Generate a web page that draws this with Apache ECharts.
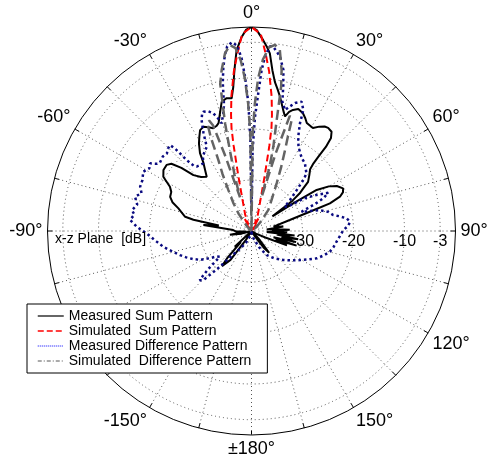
<!DOCTYPE html>
<html><head><meta charset="utf-8">
<script src="https://cdn.jsdelivr.net/npm/echarts@6/dist/echarts.min.js"></script>
<style>html,body{margin:0;padding:0;background:#fff}#c{width:494px;height:455px}</style>
</head><body><div id="c"></div>
<script>
const seriesNames = ['Measured Sum Pattern', 'Simulated  Sum Pattern', 'Measured Difference Pattern', 'Simulated  Difference Pattern'];
const planeLabel = 'x-z Plane  [dB]';
const radialTicks = [-30, -20, -10, -3];
const radialMin = -40, radialMax = 0;

// Measured sum pattern (angle deg, level dB)
const measSumAng = [-180,-165,-155,-148,-144,-140,-138,-136,-133,-128,-115,-105,-100,-97,-92,-90,-87,-83,-80.5,-79,-77.9,-75,-72.8,-70,-67.2,-64,-61.5,-58.4,-55.3,-52.1,-50,-48,-46.1,-43,-39.5,-37.3,-35,-33.5,-31,-29,-27,-24.8,-22.5,-20.4,-18.5,-17,-15,-13,-10.6,-8.5,-7.2,-6.3,-5.6,-4.7,-2.9,-1.5,0,1.5,3.5,5,5.9,7.4,8.9,10.5,12,14.7,16.3,17.5,18.9,21,23.6,25.5,27.1,30.8,33,35,36.6,38.9,40.5,41.5,42,42.5,43.5,45.9,49,50.5,52,53.5,55,56.5,57.8,60,62.2,65,67,68.8,70.6,71.5,74,78.8,82,84,86,88,90,92,94,96,98,100,102,104,106,108,110,112,115,120,130,137,141,144,148,155,180];
const measSumDb  = [-40,-40,-40,-38,-33,-31,-33,-37,-35.5,-40,-40,-38,-35.7,-39,-37,-37,-36.4,-30.5,-33.5,-28.4,-26.7,-25.8,-25,-23.5,-22.7,-22.5,-21.8,-19.7,-19,-18.9,-19.5,-21.5,-24.2,-25.5,-26.2,-25,-23.5,-21.7,-20,-18.9,-17.8,-17.5,-18,-18.5,-18.3,-17.9,-16.1,-14,-13.5,-13.7,-11.5,-9,-7,-4.4,-1.9,-0.5,0,-0.6,-2.5,-4,-5,-8.2,-10.4,-11.8,-13.1,-15.5,-16.6,-15.5,-14.9,-14.4,-14.8,-15.5,-16.2,-16.5,-15.6,-15,-14.8,-15,-16,-18,-20.5,-22,-23.3,-24.2,-25.3,-26.8,-28,-30,-35,-30,-24.9,-22.5,-21.1,-20.2,-20.5,-21.4,-23.7,-27.2,-32.2,-35.6,-33.7,-37,-35,-32.5,-36,-33,-37,-31.5,-35,-30.7,-34,-31,-35.5,-30.7,-35,-32.5,-37,-39,-40,-38,-34.5,-36,-39,-40,-40];

// Simulated sum pattern
const simSumAng = [-180,-60,-48,-42,-37,-33,-29,-25,-21,-17,-13.5,-11.8,-11,-10,-8.5,-6.3,-4.5,-2.7,0,2.7,4.5,6.3,8.5,10,11,11.8,13.5,17,21,25,29,33,37,42,48,60,180];
const simSumDb  = [-40,-40,-40,-39.5,-38,-39.5,-37.2,-38.5,-36.5,-34.5,-29,-22.8,-19.5,-16.9,-13.3,-8.5,-5,-1.35,0,-1.35,-5,-8.5,-13.3,-16.9,-19.5,-22.8,-29,-34.5,-36.5,-38.5,-37.2,-39.5,-38,-39.5,-40,-40,-40];

// Measured difference pattern
const measDiffAng = [-180,-165,-155,-148,-144,-141,-138,-135.5,-133.5,-131.5,-129,-126,-123.3,-119.5,-115.7,-112,-108.6,-104,-100.1,-96.4,-91.3,-87.9,-84.8,-82,-80.1,-77,-73.6,-71,-68.3,-65,-61.3,-58.5,-56.3,-54.5,-53.3,-50,-47.5,-45.5,-43.5,-42.8,-42.4,-41.5,-40.4,-38,-35.5,-33,-30,-28,-26,-24.2,-23,-22,-20,-18,-16.5,-15.5,-14.5,-13.5,-12.3,-11,-9.8,-8.6,-7.5,-6,-4.5,-3.3,-2.4,-1.4,-0.7,0,0.8,1.75,2.8,3.6,4.5,5.7,7,8.2,9.3,11.2,12.4,13.4,15.5,17,18.8,21.2,23.2,24.2,26.4,29,32,35,38.3,41,43.7,45.4,47.8,51.2,54,56.5,58,61,63.5,65.5,67,69,71,73,76,78.9,80.5,82.4,84.6,87,89.4,93,97.2,101,104.8,108.5,112.7,116.5,120.9,126,132.4,140,147.7,155,165,175,180];
const measDiffDb  = [-40,-39,-37.5,-36,-35,-33.5,-30,-26.5,-26,-28.5,-32,-31.5,-30.3,-28.5,-27.3,-26.2,-25.2,-23.8,-22.4,-21.3,-19.4,-17.5,-16.1,-16.8,-16.2,-17,-16.2,-17.2,-16.5,-16.4,-15.8,-16.5,-16.1,-17.3,-17.6,-17.3,-17.5,-17,-16.8,-18,-21.2,-23,-23.4,-23.6,-23.7,-22.5,-21.8,-21.3,-18.5,-16.1,-15.2,-14.8,-15,-15.7,-17,-18.1,-17.8,-16.3,-14.7,-10.5,-7.5,-5.1,-3.5,-2.8,-3.5,-6,-9.7,-15,-22,-36,-24,-17.6,-13,-8.4,-5.5,-3.6,-3.8,-4.6,-5.4,-7.8,-11,-13.9,-15.4,-14.5,-13.5,-12.8,-14.2,-16.8,-19.4,-21,-22,-22.7,-23.1,-23.8,-24.4,-25.7,-28,-30.3,-32,-31,-28,-25.4,-23.2,-24.5,-26.5,-29.5,-28,-26,-24.5,-23.7,-22.5,-21.2,-20.6,-21,-22,-22.6,-23.2,-23.6,-24.1,-25,-26.1,-27.5,-28.9,-30.2,-31.6,-33,-34.4,-36.5,-38.5,-39.5,-40];

// Simulated difference pattern
const simDiffAng = [-180,-60,-45,-40,-36.7,-33,-29.5,-27,-25,-23.5,-22.3,-21,-20,-19.3,-18.8,-18.3,-16.8,-15,-13.8,-12.8,-12,-10.5,-8.5,-6.6,-5,-3.6,-2.5,-1.5,-0.7,0,0.7,1.5,2.5,3.8,5.5,7.2,8.9,10.6,11.6,12.8,14.5,15.8,16.6,17.3,18.4,19.9,21,22.5,25,27.8,32,38.7,45,52,60,180];
const simDiffDb  = [-40,-40,-39,-37.8,-35.8,-33.5,-30.8,-27.5,-24.6,-20,-17.3,-16.8,-18,-24,-33,-32,-28.5,-23.6,-18.3,-14.5,-10.5,-7.9,-4.8,-3.3,-4,-6.5,-10,-15,-21,-40,-21,-15,-10,-6.3,-3.8,-3.2,-4.1,-7.9,-11.1,-17.7,-22.9,-27,-33,-24,-16.2,-16.9,-20,-22.8,-26.3,-29.4,-32.3,-34.7,-37.5,-39,-40,-40];

function toAxisAngle(a) { let v = ((a % 360) + 360) % 360; if (v < 90) v += 360; return v; }
function pairs(ang, db) { return ang.map((a, i) => [Math.max(db[i], radialMin), toAxisAngle(a)]); }
function angleText(v) {
  let d = ((v % 360) + 360) % 360;
  if (d % 30 !== 0) return '';
  if (d === 180) return '\u00b1180\u00b0';
  if (d > 180) d -= 360;
  return d + '\u00b0';
}

const FONT = 'Liberation Sans, Arial, Helvetica, sans-serif';
const dotted = { color: '#555', width: 1, type: [1, 3] };

const chart = echarts.init(document.getElementById('c'), null, { renderer: 'canvas' });
chart.setOption({
  animation: false,
  backgroundColor: '#fff',
  title: { text: planeLabel, left: 55, top: 232, padding: 0,
    textStyle: { fontSize: 14, fontWeight: 'normal', color: '#000', fontFamily: FONT } },
  polar: { center: [251.5, 231], radius: 204 },
  angleAxis: {
    type: 'value', min: 90, max: 450, interval: 15, startAngle: 0, clockwise: true,
    axisLine: { show: true, lineStyle: { color: '#000', width: 1 } },
    axisTick: { show: true, inside: true, length: 5, lineStyle: { color: '#000', width: 1 } },
    splitLine: { show: true, lineStyle: dotted },
    axisLabel: { formatter: angleText, fontSize: 18, color: '#000', margin: 5, fontFamily: FONT }
  },
  radiusAxis: {
    type: 'value', min: radialMin, max: radialMax,
    axisLine: { show: false },
    axisTick: { show: false, customValues: radialTicks },
    axisLabel: { customValues: radialTicks, verticalAlign: 'top', fontSize: 16, color: '#000', fontFamily: FONT, margin: -3 },
    splitLine: { show: true, lineStyle: dotted }
  },
  legend: {
    orient: 'vertical', left: 27, top: 304,
    backgroundColor: '#fff', borderColor: '#000', borderWidth: 1, borderRadius: 0,
    padding: [5, 16, 5, 10], itemWidth: 26, itemHeight: 14, itemGap: 1,
    itemStyle: { color: 'rgba(0,0,0,0)', borderWidth: 0, opacity: 0 },
    textStyle: { fontSize: 14, color: '#000', fontFamily: FONT },
    data: [
      { name: seriesNames[0], lineStyle: { width: 1.2, color: '#000', type: 'solid' } },
      { name: seriesNames[1], lineStyle: { width: 1.5, color: '#ff0000', type: [6, 3] } },
      { name: seriesNames[2], lineStyle: { width: 1, color: '#0000ff', type: [1, 1] } },
      { name: seriesNames[3], lineStyle: { width: 1, color: '#555', type: [4, 2, 1, 2] } }
    ]
  },
  series: [
    { name: seriesNames[0], type: 'line', coordinateSystem: 'polar', symbol: 'none', silent: true,
      data: pairs(measSumAng, measSumDb), itemStyle: { color: '#000' },
      lineStyle: { color: '#000', width: 2, type: 'solid' } },
    { name: seriesNames[1], type: 'line', coordinateSystem: 'polar', symbol: 'none', silent: true,
      data: pairs(simSumAng, simSumDb), itemStyle: { color: '#ff0000' },
      lineStyle: { color: '#ff0000', width: 2, type: [7, 4] } },
    { name: seriesNames[2], type: 'line', coordinateSystem: 'polar', symbol: 'none', silent: true,
      data: pairs(measDiffAng, measDiffDb), itemStyle: { color: '#0a0a80' },
      lineStyle: { color: '#0a0a80', width: 2.5, type: [2.5, 3] } },
    { name: seriesNames[3], type: 'line', coordinateSystem: 'polar', symbol: 'none', silent: true,
      data: pairs(simDiffAng, simDiffDb), itemStyle: { color: '#646464' },
      lineStyle: { color: '#646464', width: 2.5, type: [10, 5] } }
  ]
});
</script></body></html>
